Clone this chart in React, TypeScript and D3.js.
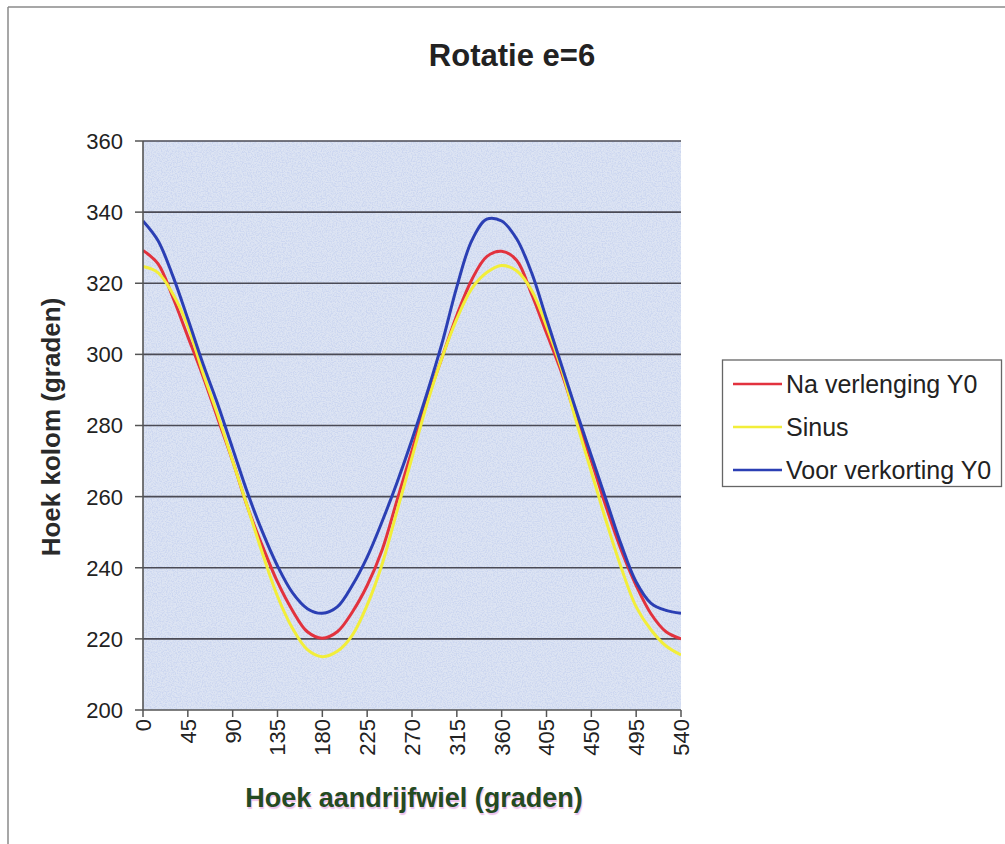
import React from "react";
import * as d3 from "d3";

const angles = [0, 15, 30, 45, 60, 75, 90, 105, 120, 135, 150, 165, 180, 195, 210, 225, 240, 255, 270, 285, 300, 315, 330, 345, 360, 375, 390, 405, 420, 435, 450, 465, 480, 495, 510, 525, 540];

const naVerlenging = [329.2, 325.5, 316, 305, 294, 282, 270, 257, 246, 236, 228, 222, 220.2, 222, 227.5, 235, 245, 259, 273, 287, 299, 311, 321, 327.5, 329, 326.5, 317, 306, 295, 282, 270, 257, 245, 235, 227, 222, 220];
const sinus = [324.7, 323, 317, 308, 295, 283, 270, 257, 244, 232, 223, 217, 215, 216.5, 221, 229.5, 241, 256, 271, 286, 299, 310, 318.5, 323, 325, 323.5, 318, 308, 296, 281, 267, 253, 240, 229, 222.5, 218, 215.5];
const voorVerkorting = [337.5, 332, 322, 310, 297.5, 286, 273.5, 261, 250, 240.5, 233, 228.5, 227.2, 229, 235, 243, 253, 264, 276, 289, 303, 319, 332, 338, 337.5, 332.5, 323, 310, 297, 284, 271.5, 259, 246.5, 236, 230, 228, 227.2];

const xTicks = [0, 45, 90, 135, 180, 225, 270, 315, 360, 405, 450, 495, 540];
const yTicks = [200, 220, 240, 260, 280, 300, 320, 340, 360];

const seriesNames = ["Na verlenging Y0", "Sinus", "Voor verkorting Y0"];
const seriesColors = ["#e2323e", "#f2ee3a", "#2b3fb4"];
const seriesData = [naVerlenging, sinus, voorVerkorting];

const title = "Rotatie e=6";
const yTitle = "Hoek kolom (graden)";
const xTitle = "Hoek aandrijfwiel (graden)";

export default function App() {
  const x = d3.scaleLinear().domain([0, 540]).range([143, 681]);
  const y = d3.scaleLinear().domain([200, 360]).range([710, 141]);
  const line = d3
    .line<number>()
    .x((_, i) => x(angles[i]))
    .y((d) => y(d))
    .curve(d3.curveCatmullRom.alpha(0.5));
  const font = "'Liberation Sans', Arial, sans-serif";
  const [x0, x1] = x.range();
  return (
    <svg
      width={1005}
      height={844}
      style={{ position: "absolute", left: 0, top: 0, background: "#fff" }}
      fontFamily={font}
    >
      <defs>
        <filter id="stipple" x="0" y="0" width="100%" height="100%">
          <feTurbulence type="fractalNoise" baseFrequency="0.8" numOctaves="2" seed="3" result="n" />
          <feColorMatrix
            in="n"
            type="matrix"
            values="0 0 0 0 0.56  0 0 0 0 0.64  0 0 0 0 0.86  0 0 0 3.2 -1.25"
          />
        </filter>
        <clipPath id="plotClip">
          <rect x={x0} y={y(360)} width={x1 - x0} height={y(200) - y(360)} />
        </clipPath>
      </defs>
      <rect x={0} y={0} width={1005} height={844} fill="#fff" />
      {/* outer frame */}
      <line x1={8} y1={7} x2={1005} y2={7} stroke="#8a8a8a" strokeWidth={1.5} />
      <line x1={8} y1={7} x2={8} y2={844} stroke="#8a8a8a" strokeWidth={1.5} />

      <text x={512} y={66} textAnchor="middle" fontSize={31} fontWeight="bold" fill="#222">
        {title}
      </text>

      {/* plot background */}
      <rect x={x0} y={y(360)} width={x1 - x0} height={y(200) - y(360)} fill="#dde4f3" />
      <rect
        x={x0}
        y={y(360)}
        width={x1 - x0}
        height={y(200) - y(360)}
        filter="url(#stipple)"
        opacity={0.7}
      />

      {/* gridlines */}
      {yTicks.filter((t) => t > 200).map((t) => (
        <line key={t} x1={x0} x2={x1} y1={y(t)} y2={y(t)} stroke="#4a4a55" strokeWidth={1.6} />
      ))}

      {/* series */}
      <g clipPath="url(#plotClip)">
        {seriesData.map((s, i) => (
          <path
            key={i}
            d={line(s) || ""}
            fill="none"
            stroke={seriesColors[i]}
            strokeWidth={3}
            strokeLinejoin="round"
          />
        ))}
      </g>

      {/* axes */}
      <line x1={x0} x2={x0} y1={y(360)} y2={y(200)} stroke="#555" strokeWidth={1.6} />
      <line x1={x0} x2={x1} y1={y(200)} y2={y(200)} stroke="#555" strokeWidth={1.6} />
      {yTicks.map((t) => (
        <g key={t}>
          <line x1={x0 - 8} x2={x0} y1={y(t)} y2={y(t)} stroke="#555" strokeWidth={1.5} />
          <text x={123} y={y(t)} dy="0.36em" textAnchor="end" fontSize={22} fill="#222">
            {t}
          </text>
        </g>
      ))}
      {xTicks.map((t) => (
        <g key={t}>
          <line x1={x(t)} x2={x(t)} y1={y(200)} y2={y(200) + 7} stroke="#555" strokeWidth={1.5} />
          <text
            transform={`translate(${x(t)},${y(200) + 9}) rotate(-90)`}
            dy="0.36em"
            textAnchor="end"
            fontSize={22}
            fill="#222"
          >
            {t}
          </text>
        </g>
      ))}

      {/* axis titles */}
      <text
        transform="translate(60,427) rotate(-90)"
        textAnchor="middle"
        fontSize={26}
        fontWeight="bold"
        fill="#2a2a2a"
      >
        {yTitle}
      </text>
      <text
        x={414}
        y={807}
        textAnchor="middle"
        fontSize={27}
        fontWeight="bold"
        fill="#244a22"
        style={{ textShadow: "1px 2px 1px rgba(220,140,220,0.55)" }}
      >
        {xTitle}
      </text>

      {/* legend */}
      <rect x={722.5} y={360} width={279} height={126.5} fill="#fff" stroke="#666" strokeWidth={1.3} />
      {seriesNames.map((n, i) => {
        const ly = 384 + i * 43;
        return (
          <g key={n}>
            <line x1={733} x2={782} y1={ly} y2={ly} stroke={seriesColors[i]} strokeWidth={2.5} />
            <text x={786} y={ly} dy="0.36em" fontSize={25} fill="#222">
              {n}
            </text>
          </g>
        );
      })}
    </svg>
  );
}
